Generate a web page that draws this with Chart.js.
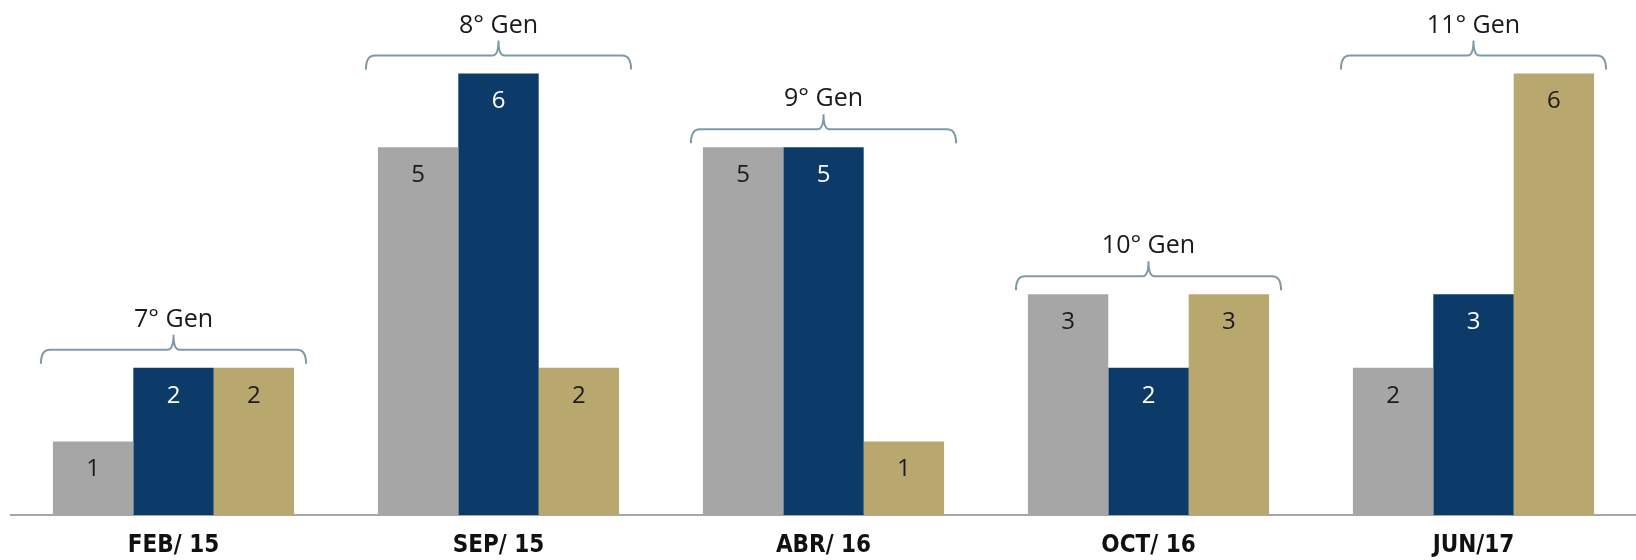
<!DOCTYPE html>
<html>
<head>
<meta charset="utf-8">
<script src="https://cdn.jsdelivr.net/npm/chart.js@4.4.0/dist/chart.umd.min.js"></script>
<style>
  html, body { margin: 0; padding: 0; background: #fff; }
  #wrap { width: 1636px; height: 560px; }
</style>
</head>
<body>
<div id="wrap"><canvas id="chart1"></canvas></div>
<script>
const categories = ["FEB/ 15", "SEP/ 15", "ABR/ 16", "OCT/ 16", "JUN/17"];
const generations = ["7° Gen", "8° Gen", "9° Gen", "10° Gen", "11° Gen"];
const seriesGray = [1, 5, 5, 3, 2];
const seriesNavy = [2, 6, 5, 2, 3];
const seriesGold = [2, 2, 1, 3, 6];

const colors = ["#a6a6a6", "#0d3b69", "#b8a86e"];
const textColors = ["#1a1a1a", "#ffffff", "#1a1a1a"];
const braceColor = "#7f9aa6";

// draws value labels inside bars + the curly brackets above each group
const bracketPlugin = {
  id: "brackets",
  afterDatasetsDraw(chart) {
    const ctx = chart.ctx;
    const y = chart.scales.y;
    ctx.save();
    ctx.font = "24px 'Open Sans', sans-serif";
    ctx.textAlign = "center";
    ctx.textBaseline = "middle";
    chart.data.datasets.forEach((ds, di) => {
      const meta = chart.getDatasetMeta(di);
      meta.data.forEach((bar, i) => {
        ctx.fillStyle = textColors[di];
        ctx.fillText(String(ds.data[i]), bar.x, bar.y + 28);
      });
    });

    categories.forEach((c, i) => {
      const first = chart.getDatasetMeta(0).data[i];
      const last = chart.getDatasetMeta(2).data[i];
      const left = first.x - first.width / 2 - 12;
      const right = last.x + last.width / 2 + 12;
      const mid = (left + right) / 2;
      const maxVal = Math.max(seriesGray[i], seriesNavy[i], seriesGold[i]);
      const top = y.getPixelForValue(maxVal);
      const yEnd = top - 4;
      const yLine = top - 18;
      const yTip = top - 33;
      const r = 9;

      ctx.strokeStyle = braceColor;
      ctx.lineWidth = 2;
      ctx.beginPath();
      ctx.moveTo(left, yEnd);
      ctx.quadraticCurveTo(left, yLine, left + r, yLine);
      ctx.lineTo(mid - 6, yLine);
      ctx.quadraticCurveTo(mid, yLine, mid, yTip);
      ctx.quadraticCurveTo(mid, yLine, mid + 6, yLine);
      ctx.lineTo(right - r, yLine);
      ctx.quadraticCurveTo(right, yLine, right, yEnd);
      ctx.stroke();

      ctx.fillStyle = "#1a1a1a";
      ctx.font = "25px 'Open Sans', sans-serif";
      ctx.fillText(generations[i], mid, top - 48);
    });
    ctx.restore();
  }
};

const chart1 = () => {
  const canvas = document.getElementById("chart1");
  const ctx = canvas.getContext("2d");

  new Chart(ctx, {
    type: "bar",
    data: {
      labels: categories,
      datasets: [
        { label: "a", data: seriesGray, backgroundColor: colors[0] },
        { label: "b", data: seriesNavy, backgroundColor: colors[1] },
        { label: "c", data: seriesGold, backgroundColor: colors[2] },
      ],
    },
    options: {
      responsive: true,
      maintainAspectRatio: false,
      animation: false,
      categoryPercentage: 0.742,
      barPercentage: 1.0,
      layout: { padding: { left: 11, right: 0, top: 0, bottom: 0 } },
      plugins: {
        legend: { display: false },
        tooltip: { enabled: false },
      },
      scales: {
        x: {
          afterFit: (scale) => { scale.height = 45; },
          grid: { display: false, drawTicks: false },
          border: { display: true, color: "#a6a6a6", width: 2 },
          ticks: {
            color: "#111",
            padding: 16,
            font: { family: "'Liberation Sans Narrow', 'DejaVu Sans Condensed', sans-serif", size: 24, weight: "bold" },
          },
        },
        y: {
          display: false,
          min: 0,
          max: 7,
        },
      },
    },
    plugins: [bracketPlugin],
  });
};

(function () {
  chart1();
})();
</script>
</body>
</html>
